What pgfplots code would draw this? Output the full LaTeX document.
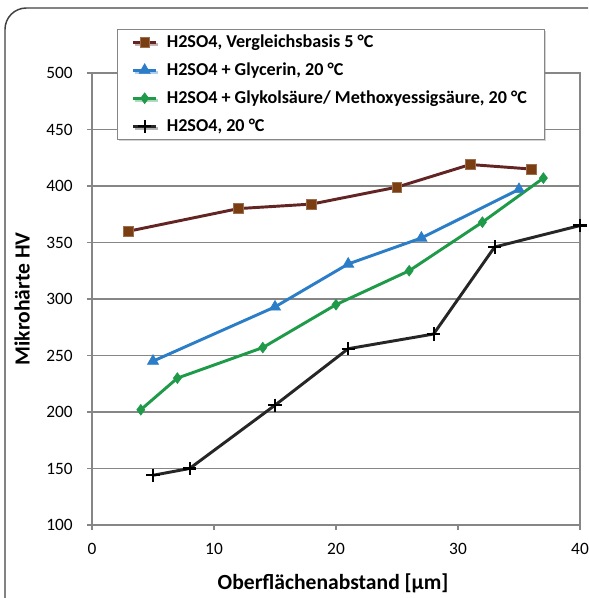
\documentclass[border=0pt]{standalone}
\usepackage{fontspec}
\setmainfont{Carlito}
\usepackage{pgfplots}
\pgfplotsset{compat=1.18}
\usetikzlibrary{shadows}

\definecolor{brownline}{HTML}{632523}
\definecolor{brownmark}{HTML}{7A3E12}
\definecolor{blueline}{HTML}{2A7DC6}
\definecolor{greenline}{HTML}{1E9A48}
\definecolor{blackline}{HTML}{262626}
\definecolor{gridgray}{HTML}{868686}

\begin{document}
\begin{tikzpicture}
\begin{axis}[
    name=ax,
    scale only axis,
    width=366pt, height=339pt,
    xmin=0, xmax=40, ymin=100, ymax=500,
    xtick={0,10,20,30,40},
    ytick={100,150,200,250,300,350,400,450,500},
    tick pos=left,
    tick align=outside,
    major tick length=4pt,
    axis line style={gridgray, line width=0.9pt},
    tick style={gridgray, line width=0.9pt},
    ymajorgrids,
    grid style={gridgray, line width=0.9pt},
    ticklabel style={font=\fontsize{13}{15}\selectfont},
    yticklabel style={xshift=-7pt},
    xticklabel style={yshift=-6pt},
    /pgf/number format/assume math mode=true,
    xlabel={Oberflächenabstand [µm]},
    ylabel={Mikrohärte HV},
    label style={font=\fontsize{16.2}{19}\selectfont\bfseries},
    xlabel style={at={(axis description cs:0.494,-0.128)}, anchor=center},
    ylabel style={at={(axis description cs:-0.1434,0.5)}, anchor=center},
    legend style={
        at={(0.051,1.097)}, anchor=north west,
        font=\fontsize{13.6}{16}\selectfont\bfseries,
        draw=gridgray, fill=white,
        row sep=6pt,
        inner xsep=11pt, inner ysep=2pt,
        /tikz/every odd column/.append style={column sep=5pt},
        drop shadow={shadow xshift=1.5pt, shadow yshift=-1.5pt, opacity=0.35},
    },
    legend cell align={left},
    clip=false,
]

% Vergleichsbasis 5 C
\addplot[color=brownline, line width=2.2pt, mark=square*, mark size=3.6pt,
    mark options={fill=brownmark, draw=brownmark!75!white, line width=0.5pt}]
coordinates {(3,360) (12,380) (18,384) (25,399) (31,419) (36,415)};
\addlegendentry{H2SO4, Vergleichsbasis 5 °C}

% Glycerin
\addplot[color=blueline, line width=2.2pt, mark=triangle*, mark size=4.8pt,
    mark options={fill=blueline, draw=blueline, line width=0.5pt}]
coordinates {(5,245) (15,293) (21,331) (27,354) (35,397)};
\addlegendentry{H2SO4 + Glycerin, 20 °C}

% Glykolsaeure / Methoxyessigsaeure
\addplot[color=greenline, line width=2.2pt, mark=diamond*, mark size=4pt,
    mark options={fill=greenline, draw=greenline, line width=0.5pt}]
coordinates {(4,202) (7,230) (14,257) (20,295) (26,325) (32,368) (37,407)};
\addlegendentry{H2SO4 + Glykolsäure/ Methoxyessigsäure, 20 °C}

% H2SO4 20 C
\addplot[color=blackline, line width=2.2pt, mark=+, mark size=5pt,
    mark options={draw=black, line width=1.6pt}]
coordinates {(5,144) (8,150) (15,206) (21,256) (28,269) (33,346) (40,365)};
\addlegendentry{H2SO4, 20 °C}

\end{axis}
\pgfresetboundingbox
\path[use as bounding box] ([xshift=-69pt,yshift=-54.75pt]ax.south west)
    rectangle ([xshift=6pt,yshift=54.75pt]ax.north east);
\begin{scope}
\clip ([xshift=-69pt,yshift=-54.75pt]ax.south west)
    rectangle ([xshift=6pt,yshift=54.75pt]ax.north east);
\draw[black!75, line width=1.1pt, rounded corners=16pt]
    ([xshift=-65.25pt,yshift=-90pt]ax.south west)
    rectangle ([xshift=40pt,yshift=48.75pt]ax.north east);
\end{scope}
\end{tikzpicture}
\end{document}
